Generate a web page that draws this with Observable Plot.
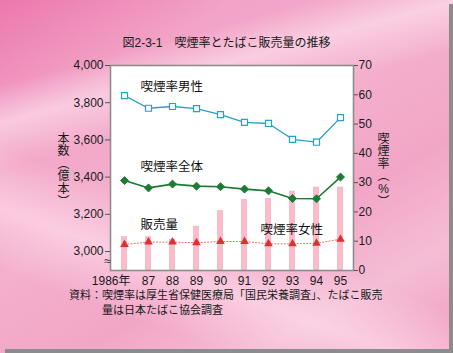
<!DOCTYPE html>
<html><head><meta charset="utf-8">
<script src="https://cdn.jsdelivr.net/npm/d3@7"></script>
<script src="https://cdn.jsdelivr.net/npm/@observablehq/plot@0.6"></script>
<style>
html,body{margin:0;padding:0;background:#fff;}
#wrap{position:relative;width:453px;height:353px;overflow:hidden;
  font-family:"Liberation Sans","Noto Sans CJK JP",sans-serif;color:#1a1a1a;
  background:
    linear-gradient(165deg, rgba(255,255,255,0) 18%, rgba(255,235,245,0.55) 26%, rgba(255,255,255,0) 36%),
    linear-gradient(200deg, rgba(255,255,255,0) 60%, rgba(255,225,238,0.6) 72%, rgba(255,255,255,0) 84%),
    linear-gradient(150deg, #ec78ad 0%, #f2a3c6 22%, #f4b0cd 45%, #f2a6c7 65%, #f5bdd5 82%, #f09cc0 100%);}
#title{position:absolute;left:0;top:36px;width:453px;text-align:center;font-size:12px;line-height:14px;}
#chart{position:absolute;left:0;top:50px;}
#caption{position:absolute;left:69px;top:288px;font-size:11px;line-height:15px;width:330px;}
#caption .l2{padding-left:33px;}
#shadowR{position:absolute;right:0;top:4px;width:4px;height:349px;background:#8c8c8c;}
#shadowB{position:absolute;left:5px;bottom:0;width:448px;height:4px;background:#8c8c8c;}
</style></head>
<body>
<div id="wrap">
  <div id="title">図2-3-1　喫煙率とたばこ販売量の推移</div>
  <div id="chart"></div>
  <div id="caption"><div>資料：喫煙率は厚生省保健医療局「国民栄養調査」、たばこ販売</div><div class="l2">量は日本たばこ協会調査</div></div>
  <div id="shadowR"></div><div id="shadowB"></div>
</div>
<script>
const years = [1986, 1987, 1988, 1989, 1990, 1991, 1992, 1993, 1994, 1995];
const sales = [3080, 3080, 3065, 3136, 3220, 3280, 3285, 3324, 3346, 3346]; // 億本
const maleRate = [59.7, 55.4, 56.0, 55.3, 53.2, 50.6, 50.2, 44.8, 43.8, 52.2];
const totalRate = [30.7, 28.2, 29.5, 28.8, 28.6, 27.8, 27.2, 24.6, 24.5, 31.9];
const femaleRate = [8.9, 9.7, 9.7, 9.5, 9.9, 9.9, 9.1, 9.1, 9.3, 10.7];
const salesTicks = [3000, 3200, 3400, 3600, 3800, 4000];
const rateTicks = [0, 10, 20, 30, 40, 50, 60, 70];
const xTickLabels = ["1986年", "87", "88", "89", "90", "91", "92", "93", "94", "95"];
const seriesLabels = [
  {text: "喫煙率男性", year: 1987, value: 62.8},
  {text: "喫煙率全体", year: 1987, value: 35.2},
  {text: "販売量", year: 1987, value: 15.7},
  {text: "喫煙率女性", year: 1992, value: 14.0}
];

// sales (left axis, broken below 3,000) mapped into the rate scale
const s2p = d3.scaleLinear([2898, 4000], [0, 70]);
const rows = years.map((y, i) => ({year: y, sales: sales[i], male: maleRate[i], total: totalRate[i], female: femaleRate[i]}));

const cMale = "#2aa0c4", cTotal = "#1d7a34", cFemLine = "#e27a6a", cFem = "#e0302e", cBar = "#f8bccb";

const plot = Plot.plot({
  width: 453, height: 238,
  marginTop: 15, marginBottom: 18, marginLeft: 110, marginRight: 100,
  style: {fontFamily: "'Liberation Sans','Noto Sans CJK JP',sans-serif", fontSize: "12px", color: "#1a1a1a", background: "transparent"},
  x: {type: "band", domain: years, padding: 0},
  y: {domain: [0, 70]},
  marks: [
    Plot.frame({fill: "white", stroke: "none"}),
    Plot.barY(rows, {x: "year", y1: 0, y2: d => s2p(d.sales), fill: cBar, insetLeft: 9, insetRight: 9}),
    Plot.line(rows, {x: "year", y: "female", stroke: cFemLine, strokeWidth: 1, strokeDasharray: "1.2,2"}),
    Plot.dot(rows, {x: "year", y: "female", symbol: "triangle", r: 3.2, fill: cFem, stroke: "none"}),
    Plot.line(rows, {x: "year", y: "total", stroke: cTotal, strokeWidth: 1.6}),
    Plot.dot(rows, {x: "year", y: "total", symbol: "diamond2", r: 3.6, fill: cTotal, stroke: cTotal, strokeWidth: 1}),
    Plot.line(rows, {x: "year", y: "male", stroke: cMale, strokeWidth: 1.3}),
    Plot.dot(rows, {x: "year", y: "male", symbol: "square", r: 3.4, fill: "white", stroke: cMale, strokeWidth: 1.2}),
    Plot.frame({stroke: "#8e8e8e", strokeWidth: 1.6}),
    Plot.axisY({anchor: "left", ticks: salesTicks.map(s2p), tickFormat: d => d3.format(",")(Math.round(s2p.invert(d))), tickSize: 5, tickPadding: 2, stroke: "#555", label: null}),
    Plot.axisY({anchor: "right", ticks: rateTicks, tickFormat: d => String(d), tickSize: 4, tickPadding: 1, stroke: "#555", label: null}),
    Plot.axisX({anchor: "bottom", tickSize: 0, tickPadding: 6, tickFormat: (d, i) => d === 1986 ? "" : xTickLabels[years.indexOf(d)], label: null}),
    Plot.text([xTickLabels[0]], {x: () => years[0], frameAnchor: "bottom", lineAnchor: "middle", dy: 11, dx: 6, textAnchor: "end", text: d => d, fontSize: 12}),
    // axis break mark
    Plot.text(["≈"], {frameAnchor: "bottom-left", lineAnchor: "middle", textAnchor: "middle", dx: -3, dy: -9, text: d => d, fontSize: 12, fill: "#333"}),
    Plot.text(seriesLabels, {x: "year", y: "value", text: "text", textAnchor: "start", dx: -8, fontSize: 12.5, fill: "#111"}),
    Plot.text(["本\n数\n︵\n億\n本\n︶"], {frameAnchor: "left", textAnchor: "middle", lineAnchor: "middle", dx: -47, dy: 2, text: d => d, lineHeight: 1.05, fontSize: 12}),
    Plot.text(["喫\n煙\n率\n︵\n%\n︶"], {frameAnchor: "right", textAnchor: "middle", lineAnchor: "middle", dx: 30, dy: 2, text: d => d, lineHeight: 1.05, fontSize: 12})
  ]
});
document.getElementById("chart").appendChild(plot);
</script>
</body></html>
